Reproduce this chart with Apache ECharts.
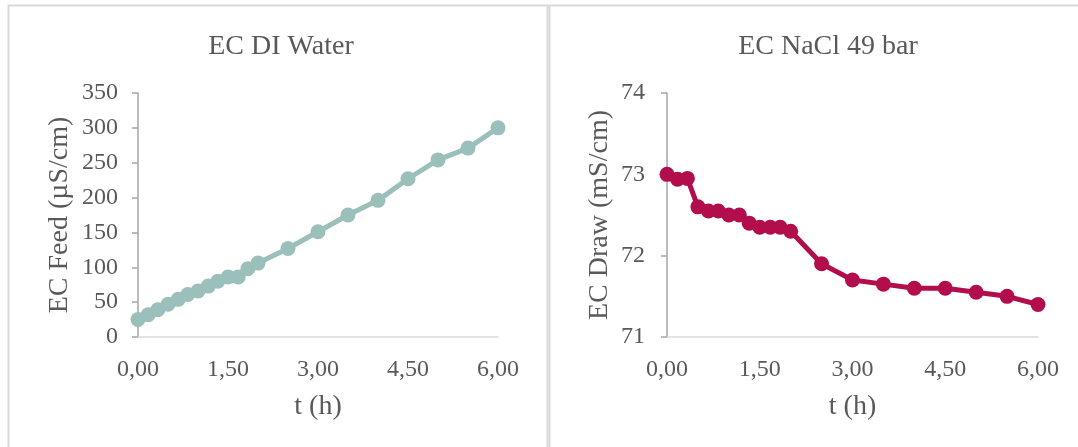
<!DOCTYPE html>
<html><head><meta charset="utf-8">
<script src="https://cdn.jsdelivr.net/npm/echarts@6/dist/echarts.min.js"></script>
<style>html,body{margin:0;padding:0;background:#fff}#c{width:1078px;height:447px}</style>
</head><body><div id="c"></div>
<script>
const timeH = [0, 0.17, 0.33, 0.5, 0.67, 0.83, 1, 1.17, 1.33, 1.5, 1.67, 1.83, 2, 2.5, 3, 3.5, 4, 4.5, 5, 5.5, 6];
const ecFeed = [25, 32, 39, 47, 54, 61, 66, 73, 80, 86, 86, 98, 106, 127, 151, 175, 196, 227, 254, 271, 300];
const ecDraw = [73.0, 72.94, 72.95, 72.6, 72.55, 72.55, 72.5, 72.5, 72.4, 72.35, 72.35, 72.35, 72.3, 71.9, 71.7, 71.65, 71.6, 71.6, 71.55, 71.5, 71.4];
const titles = ['EC DI Water', 'EC NaCl 49 bar'];
const yNames = ['EC Feed (µS/cm)', 'EC Draw (mS/cm)'];
const xName = 't (h)';
const colors = ['#9BBFBB', '#B20E4D'];

const FONT = '"Liberation Serif", "Times New Roman", serif';
const TXT = '#595959';
const chart = echarts.init(document.getElementById('c'), null, {renderer: 'canvas'});

function xAxis(gi) {
  return {
    type: 'value', gridIndex: gi, min: 0, max: 6, interval: 1.5,
    name: xName, nameLocation: 'middle', nameGap: 56,
    nameTextStyle: {fontFamily: FONT, fontSize: 28, color: TXT},
    axisLine: {show: true, lineStyle: {color: '#d9d9d9', width: 1.5}},
    axisTick: {show: false},
    splitLine: {show: false},
    axisLabel: {fontFamily: FONT, fontSize: 24, color: TXT, margin: 21,
      formatter: v => v.toFixed(2).replace('.', ',')}
  };
}
function yAxis(gi, min, max, interval, gap, margin) {
  return {
    type: 'value', gridIndex: gi, min, max, interval,
    name: yNames[gi], nameLocation: 'middle', nameGap: gap, nameRotate: 90,
    nameTextStyle: {fontFamily: FONT, fontSize: 28, color: TXT},
    axisLine: {show: true, lineStyle: {color: '#a6a6a6', width: 1.5}},
    axisTick: {show: true, inside: false, length: 6, lineStyle: {color: '#a6a6a6', width: 1.5}},
    splitLine: {show: false},
    axisLabel: {fontFamily: FONT, fontSize: 24, color: TXT, margin: margin}
  };
}
function pairs(ys) { return timeH.map((t, i) => [t, ys[i]]); }

chart.setOption({
  animation: false,
  title: [
    {text: titles[0], left: 276, top: 28, textAlign: 'center',
     textStyle: {fontFamily: FONT, fontSize: 28, fontWeight: 'normal', color: TXT}},
    {text: titles[1], left: 823, top: 28, textAlign: 'center',
     textStyle: {fontFamily: FONT, fontSize: 28, fontWeight: 'normal', color: TXT}}
  ],
  graphic: [
    {type: 'rect', shape: {x: 8.5, y: 5.5, width: 539, height: 500}, style: {fill: 'none', stroke: '#d9d9d9', lineWidth: 2}, silent: true},
    {type: 'rect', shape: {x: 549.5, y: 5.5, width: 600, height: 500}, style: {fill: 'none', stroke: '#d9d9d9', lineWidth: 2}, silent: true}
  ],
  grid: [
    {left: 138, top: 93, width: 360, height: 244},
    {left: 667, top: 93, width: 371, height: 244}
  ],
  xAxis: [xAxis(0), xAxis(1)],
  yAxis: [yAxis(0, 0, 350, 50, 64, 20), yAxis(1, 71, 74, 1, 53, 22)],
  series: [
    {type: 'line', xAxisIndex: 0, yAxisIndex: 0, data: pairs(ecFeed),
     symbol: 'circle', symbolSize: 15, lineStyle: {color: colors[0], width: 5},
     itemStyle: {color: colors[0]}},
    {type: 'line', xAxisIndex: 1, yAxisIndex: 1, data: pairs(ecDraw),
     symbol: 'circle', symbolSize: 15, lineStyle: {color: colors[1], width: 5},
     itemStyle: {color: colors[1]}}
  ]
});
</script></body></html>
